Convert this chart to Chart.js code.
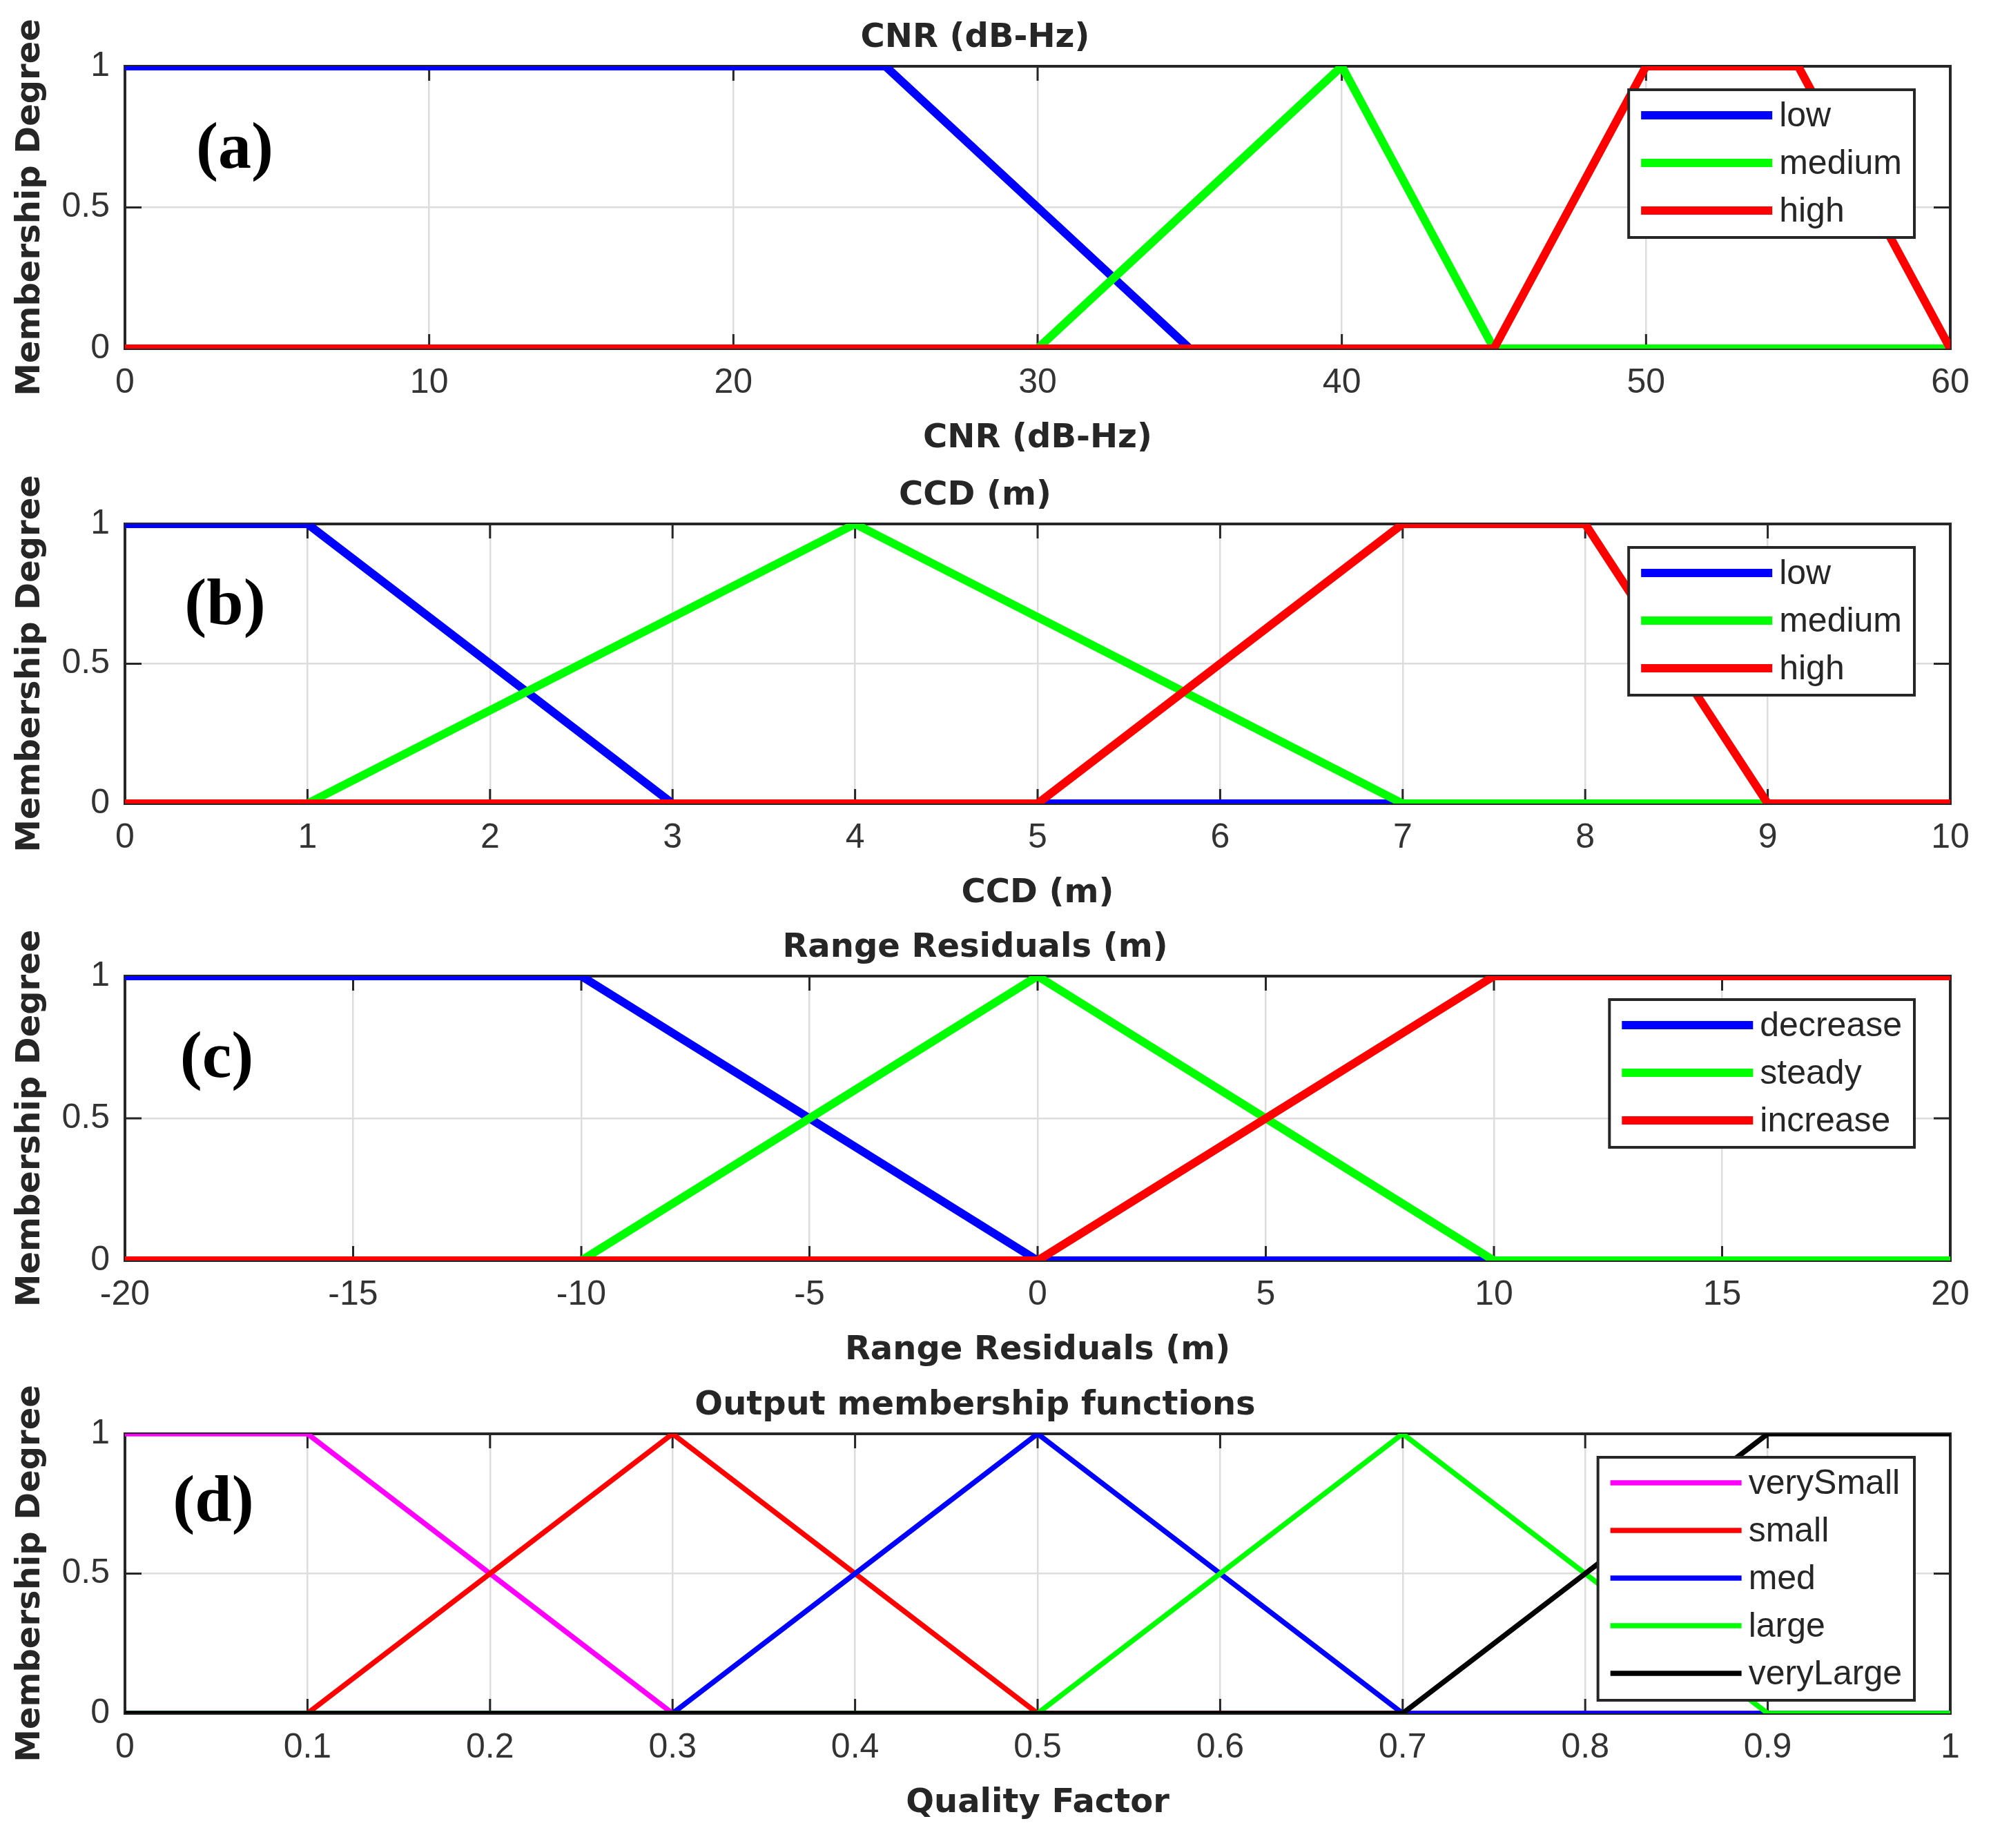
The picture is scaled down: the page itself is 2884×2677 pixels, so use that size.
<!DOCTYPE html>
<html>
<head>
<meta charset="utf-8">
<script src="https://cdn.jsdelivr.net/npm/chart.js@4.4.1/dist/chart.umd.min.js"></script>
<style>
  html, body { margin: 0; padding: 0; background: #fff; }
  body { width: 2884px; height: 2677px; position: relative; overflow: hidden; }
  .panel { position: absolute; left: 0; width: 2884px; }
</style>
</head>
<body>
<div class="panel"><canvas id="cnrChart"></canvas></div>
<div class="panel"><canvas id="ccdChart"></canvas></div>
<div class="panel"><canvas id="resChart"></canvas></div>
<div class="panel"><canvas id="qfChart"></canvas></div>
<script>
// membership degree axis
const degreeTicks = [0, 0.5, 1];

// (a) CNR
const cnrTicks = [0, 10, 20, 30, 40, 50, 60];
const cnrLabels = ['low', 'medium', 'high'];
const cnrLowX = [0, 25, 35, 60];
const cnrLowY = [1, 1, 0, 0];
const cnrMedX = [0, 30, 40, 45, 60];
const cnrMedY = [0, 0, 1, 0, 0];
const cnrHighX = [0, 45, 50, 55, 60];
const cnrHighY = [0, 0, 1, 1, 0];

// (b) CCD
const ccdTicks = [0, 1, 2, 3, 4, 5, 6, 7, 8, 9, 10];
const ccdLabels = ['low', 'medium', 'high'];
const ccdLowX = [0, 1, 3, 10];
const ccdLowY = [1, 1, 0, 0];
const ccdMedX = [0, 1, 4, 7, 10];
const ccdMedY = [0, 0, 1, 0, 0];
const ccdHighX = [0, 5, 7, 8, 9, 10];
const ccdHighY = [0, 0, 1, 1, 0, 0];

// (c) range residuals
const resTicks = [-20, -15, -10, -5, 0, 5, 10, 15, 20];
const resLabels = ['decrease', 'steady', 'increase'];
const resDecX = [-20, -10, 0, 20];
const resDecY = [1, 1, 0, 0];
const resSteadyX = [-20, -10, 0, 10, 20];
const resSteadyY = [0, 0, 1, 0, 0];
const resIncX = [-20, 0, 10, 20];
const resIncY = [0, 0, 1, 1];

// (d) output quality factor
const qfTicks = [0, 0.1, 0.2, 0.3, 0.4, 0.5, 0.6, 0.7, 0.8, 0.9, 1];
const qfLabels = ['verySmall', 'small', 'med', 'large', 'veryLarge'];
const qfVsX = [0, 0.1, 0.3, 1];
const qfVsY = [1, 1, 0, 0];
const qfSmallX = [0, 0.1, 0.3, 0.5, 1];
const qfSmallY = [0, 0, 1, 0, 0];
const qfMedX = [0, 0.3, 0.5, 0.7, 1];
const qfMedY = [0, 0, 1, 0, 0];
const qfLargeX = [0, 0.5, 0.7, 0.9, 1];
const qfLargeY = [0, 0, 1, 0, 0];
const qfVlX = [0, 0.7, 0.9, 1];
const qfVlY = [0, 0, 1, 1];

const INK = '#262626';
const TOP_SPACE = 96;
const X_SPACE = 160;
const titleFont = { family: '"DejaVu Sans", sans-serif', size: 48, weight: 'bold' };
const tickFont = { family: '"Liberation Sans", Arial, sans-serif', size: 50 };

// box round the axes with inward ticks, like MATLAB
const axesBox = {
    id: 'axesBox',
    beforeDatasetsDraw(chart) {
        const { ctx, chartArea: a, scales: { x, y } } = chart;
        ctx.save();
        ctx.strokeStyle = INK;
        ctx.lineWidth = 3;
        ctx.beginPath();
        x.ticks.forEach(t => {
            const p = x.getPixelForValue(t.value);
            ctx.moveTo(p, a.bottom); ctx.lineTo(p, a.bottom - 21);
            ctx.moveTo(p, a.top); ctx.lineTo(p, a.top + 21);
        });
        y.ticks.forEach(t => {
            const p = y.getPixelForValue(t.value);
            ctx.moveTo(a.left, p); ctx.lineTo(a.left + 24, p);
            ctx.moveTo(a.right, p); ctx.lineTo(a.right - 24, p);
        });
        ctx.stroke();
        ctx.lineWidth = 4;
        ctx.strokeRect(a.left, a.top, a.right - a.left, a.bottom - a.top);
        ctx.restore();
    }
};

// (a), (b)... tag
const panelTag = {
    id: 'panelTag',
    afterDatasetsDraw(chart, args, opts) {
        const { ctx, chartArea: a } = chart;
        ctx.save();
        ctx.font = 'bold 96px "Liberation Serif", "Times New Roman", serif';
        ctx.fillStyle = '#000';
        ctx.textAlign = 'center';
        ctx.textBaseline = 'middle';
        ctx.fillText(opts.text, a.left + opts.dx, a.top + opts.dy);
        ctx.restore();
    }
};

// legend box inside the axes, top right
const keyBox = {
    id: 'keyBox',
    afterDatasetsDraw(chart, args, opts) {
        const { ctx, chartArea: a } = chart;
        const sets = chart.data.datasets;
        ctx.save();
        ctx.font = '50px "Liberation Sans", Arial, sans-serif';
        const textW = Math.max(...sets.map(d => ctx.measureText(d.label).width));
        const w = 18 + 190 + 10 + textW + 18;
        const h = 37 + (sets.length - 1) * 69 + 39;
        const right = a.right - 52;
        const left = right - w;
        const top = a.top + 34;
        ctx.fillStyle = '#fff';
        ctx.fillRect(left, top, w, h);
        ctx.strokeStyle = INK;
        ctx.lineWidth = 4;
        ctx.strokeRect(left, top, w, h);
        sets.forEach((d, i) => {
            const yy = top + 37 + i * 69;
            ctx.strokeStyle = d.borderColor;
            ctx.lineWidth = d.borderWidth;
            ctx.beginPath();
            ctx.moveTo(left + 18, yy);
            ctx.lineTo(left + 208, yy);
            ctx.stroke();
            ctx.fillStyle = INK;
            ctx.textAlign = 'left';
            ctx.textBaseline = 'middle';
            ctx.fillText(d.label, left + 218, yy + 2);
        });
        ctx.restore();
    }
};

function makePanel(id, cfg) {
    const canvas = document.getElementById(id);
    const holder = canvas.parentNode;
    holder.style.top = (cfg.plotTop - TOP_SPACE) + 'px';
    holder.style.height = (TOP_SPACE + cfg.plotH + X_SPACE) + 'px';

    const n = cfg.series.length;
    const datasets = cfg.series.map((s, i) => ({
        label: s.label,
        data: s.x.map((v, k) => ({ x: v, y: s.y[k] })),
        borderColor: s.color,
        backgroundColor: s.color,
        borderWidth: cfg.lineWidth,
        pointRadius: 0,
        tension: 0,
        fill: false,
        order: n - 1 - i
    }));

    const grid = { color: '#dddddd', lineWidth: 2.5, drawTicks: false };

    return new Chart(canvas, {
        type: 'line',
        data: { datasets: datasets },
        options: {
            responsive: true,
            maintainAspectRatio: false,
            animation: false,
            events: [],
            layout: { padding: { left: 0, right: 59, top: 0, bottom: 0 } },
            plugins: {
                legend: { display: false },
                tooltip: { enabled: false },
                title: {
                    display: true,
                    text: cfg.title,
                    font: titleFont,
                    color: INK,
                    padding: { top: 27, bottom: 11.4 }
                },
                panelTag: { text: cfg.tag, dx: cfg.tagDx, dy: cfg.tagDy }
            },
            scales: {
                x: {
                    type: 'linear',
                    min: cfg.ticks[0],
                    max: cfg.ticks[cfg.ticks.length - 1],
                    afterBuildTicks: s => { s.ticks = cfg.ticks.map(v => ({ value: v })); },
                    afterFit: s => { s.height = X_SPACE; },
                    grid: grid,
                    border: { display: false },
                    ticks: {
                        font: tickFont,
                        color: '#333',
                        padding: 20,
                        maxRotation: 0,
                        autoSkip: false,
                        callback: v => String(v)
                    },
                    title: {
                        display: true,
                        text: cfg.xTitle,
                        font: titleFont,
                        color: INK,
                        padding: { top: 0, bottom: 1 }
                    }
                },
                y: {
                    type: 'linear',
                    min: 0,
                    max: 1,
                    afterBuildTicks: s => { s.ticks = degreeTicks.map(v => ({ value: v })); },
                    afterFit: s => { s.width = 181; },
                    grid: grid,
                    border: { display: false },
                    ticks: {
                        font: tickFont,
                        color: '#333',
                        padding: 22,
                        callback: v => String(v)
                    },
                    title: {
                        display: true,
                        text: 'Membership Degree',
                        font: titleFont,
                        color: INK,
                        padding: { top: 16.2, bottom: 0 }
                    }
                }
            }
        },
        plugins: [axesBox, panelTag, keyBox]
    });
}

makePanel('cnrChart', {
    plotTop: 96, plotH: 409, lineWidth: 12,
    title: 'CNR (dB-Hz)', xTitle: 'CNR (dB-Hz)',
    tag: '(a)', tagDx: 159, tagDy: 122,
    ticks: cnrTicks,
    series: [
        { label: cnrLabels[0], x: cnrLowX, y: cnrLowY, color: '#0000ff' },
        { label: cnrLabels[1], x: cnrMedX, y: cnrMedY, color: '#00ff00' },
        { label: cnrLabels[2], x: cnrHighX, y: cnrHighY, color: '#ff0000' }
    ]
});

makePanel('ccdChart', {
    plotTop: 759, plotH: 405, lineWidth: 12,
    title: 'CCD (m)', xTitle: 'CCD (m)',
    tag: '(b)', tagDx: 145, tagDy: 120,
    ticks: ccdTicks,
    series: [
        { label: ccdLabels[0], x: ccdLowX, y: ccdLowY, color: '#0000ff' },
        { label: ccdLabels[1], x: ccdMedX, y: ccdMedY, color: '#00ff00' },
        { label: ccdLabels[2], x: ccdHighX, y: ccdHighY, color: '#ff0000' }
    ]
});

makePanel('resChart', {
    plotTop: 1414, plotH: 412, lineWidth: 12,
    title: 'Range Residuals (m)', xTitle: 'Range Residuals (m)',
    tag: '(c)', tagDx: 133, tagDy: 121,
    ticks: resTicks,
    series: [
        { label: resLabels[0], x: resDecX, y: resDecY, color: '#0000ff' },
        { label: resLabels[1], x: resSteadyX, y: resSteadyY, color: '#00ff00' },
        { label: resLabels[2], x: resIncX, y: resIncY, color: '#ff0000' }
    ]
});

makePanel('qfChart', {
    plotTop: 2077, plotH: 405, lineWidth: 7.5,
    title: 'Output membership functions', xTitle: 'Quality Factor',
    tag: '(d)', tagDx: 128, tagDy: 101,
    ticks: qfTicks,
    series: [
        { label: qfLabels[0], x: qfVsX, y: qfVsY, color: '#ff00ff' },
        { label: qfLabels[1], x: qfSmallX, y: qfSmallY, color: '#ff0000' },
        { label: qfLabels[2], x: qfMedX, y: qfMedY, color: '#0000ff' },
        { label: qfLabels[3], x: qfLargeX, y: qfLargeY, color: '#00ff00' },
        { label: qfLabels[4], x: qfVlX, y: qfVlY, color: '#000000' }
    ]
});
</script>
</body>
</html>
